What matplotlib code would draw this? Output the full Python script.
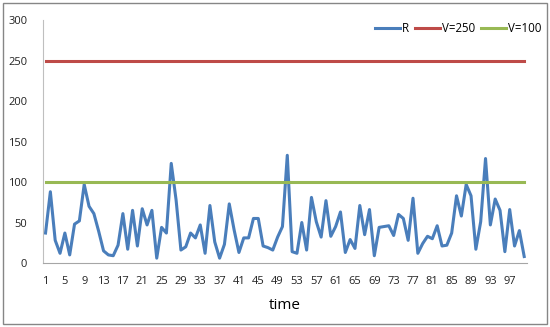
import matplotlib
matplotlib.use("Agg")
import matplotlib.pyplot as plt
from matplotlib.patches import Rectangle

plt.rcParams["font.family"] = ["Open Sans", "DejaVu Sans"]

# R value at each time step
r_values = [
    37, 88, 28, 12, 37, 10, 48, 52, 97, 70,
    61, 39, 15, 10, 9, 22, 61, 17, 65, 21,
    67, 47, 65, 6, 44, 37, 123, 78, 16, 20,
    37, 31, 47, 12, 71, 26, 6, 23, 73, 41,
    13, 31, 31, 55, 55, 21, 19, 16, 32, 45,
    133, 14, 12, 50, 16, 81, 51, 32, 77, 33,
    45, 63, 13, 29, 18, 71, 35, 66, 9, 44,
    45, 46, 34, 60, 55, 28, 80, 12, 24, 33,
    30, 46, 21, 22, 37, 83, 58, 97, 83, 17,
    51, 129, 47, 79, 65, 14, 66, 21, 40, 8,
]
times = list(range(1, len(r_values) + 1))
v_high = 250
v_low = 100
y_ticks = [0, 50, 100, 150, 200, 250, 300]
x_ticks = list(range(1, 100, 4))

fig = plt.figure(figsize=(5.5, 3.27), dpi=100)
ax = fig.add_axes([0.0775, 0.1957, 0.88, 0.743])

ax.plot(times, r_values, color="#4A7EBB", lw=2.2, label="R")
ax.plot(times, [v_high] * len(times), color="#BE4B48", lw=2.2, label="V=250")
ax.plot(times, [v_low] * len(times), color="#98B954", lw=2.2, label="V=100")

ax.set_xlim(0.4, 100.5)
ax.set_ylim(0, 300)
ax.set_yticks(y_ticks)
ax.set_xticks(x_ticks)
ax.tick_params(length=0, labelsize=8, colors="#222222")
ax.tick_params(axis="y", pad=11)
ax.tick_params(axis="x", pad=9)
ax.set_xlabel("time", fontsize=11, labelpad=8)

for side in ("top", "right"):
    ax.spines[side].set_visible(False)
ax.spines["left"].set_color("#BFBFBF")
ax.spines["bottom"].set_color("#A6A6A6")

ax.legend(loc="center right", bbox_to_anchor=(1.003, 0.914),
          bbox_transform=fig.transFigure, ncol=3, frameon=False,
          fontsize=8.3, handlelength=2.2, handletextpad=0.15,
          columnspacing=0.5)

# chart area border
fig.patches.append(Rectangle((0.006, 0.008), 0.988, 0.984,
                             transform=fig.transFigure, fill=False,
                             edgecolor="#868686", lw=1.0))

fig.savefig("out.png", dpi=100)
